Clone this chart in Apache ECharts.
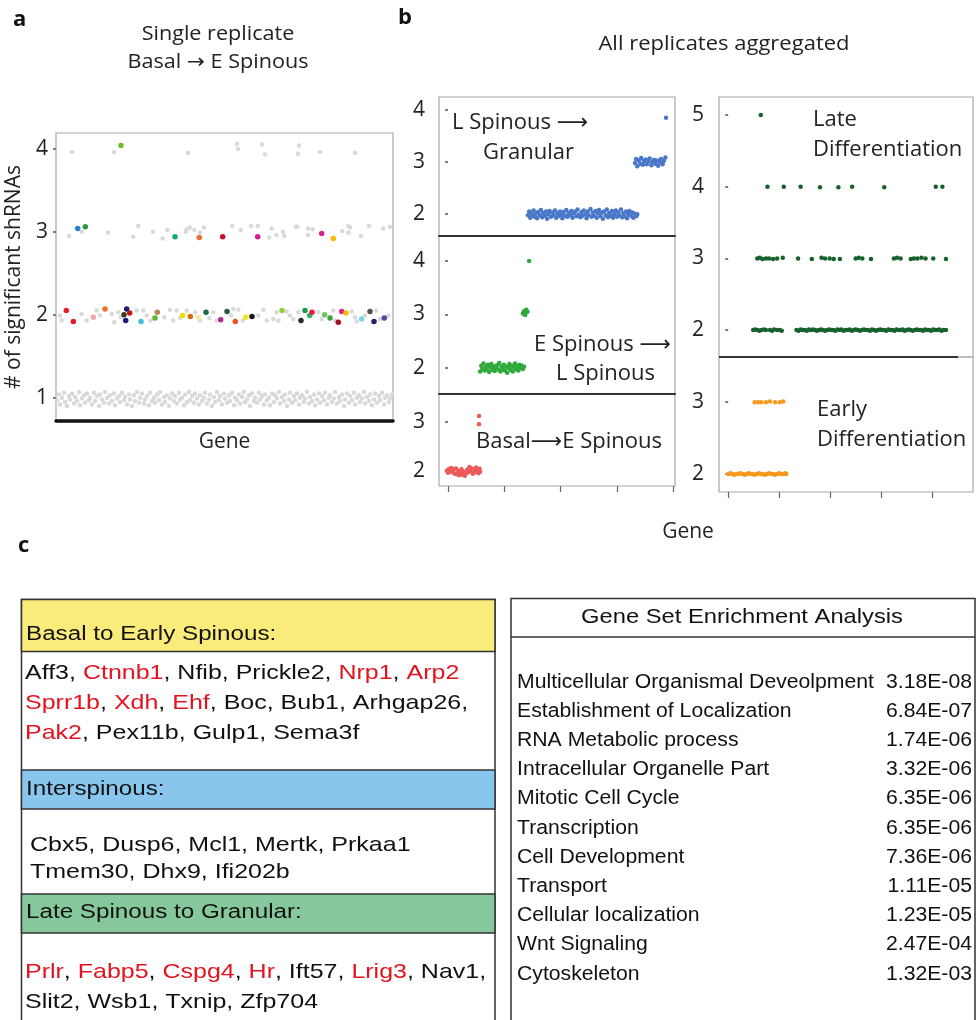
<!DOCTYPE html>
<html>
<head>
<meta charset="utf-8">
<script src="https://cdn.jsdelivr.net/npm/echarts@6/dist/echarts.min.js"></script>
<style>
  html, body { margin: 0; padding: 0; background: #fff; }
  #chart { width: 976px; height: 1020px; }
</style>
</head>
<body>
<div id="chart"></div>
<script>
// ---- panel a : single replicate, gene position (0-337) vs # significant shRNAs
const aBand1 = [
  [1,0.97],[3,1.04],[4,0.92],[6,1.0],[8,1.06],[9,0.95],[11,0.9],[13,1.02],[14,0.98],[16,1.05],
  [18,0.93],[19,1.01],[21,0.96],[23,1.07],[24,0.91],[26,0.99],[28,1.03],[29,0.94],[31,1.05],[33,0.97],
  [34,1.0],[36,0.92],[38,1.06],[39,0.96],[41,1.02],[43,0.9],[44,1.04],[46,0.98],[48,0.94],[49,1.07],
  [51,1.0],[53,0.93],[54,1.03],[56,0.96],[58,1.05],[59,0.91],[61,0.99],[63,1.02],[64,0.95],[66,1.06],
  [68,0.97],[69,1.01],[71,0.92],[73,1.04],[74,0.98],[76,0.9],[78,1.03],[79,0.96],[81,1.07],[83,0.94],
  [84,1.0],[86,1.05],[88,0.93],[89,0.98],[91,1.02],[93,0.91],[94,1.06],[96,0.96],[98,1.0],[99,0.94],
  [101,1.04],[103,0.97],[104,1.07],[106,0.92],[108,1.01],[109,0.95],[111,1.03],[113,0.9],[114,0.99],[116,1.05],
  [118,0.96],[119,1.02],[121,0.93],[123,1.06],[124,0.98],[126,1.0],[128,0.91],[129,1.04],[131,0.95],[133,1.07],
  [134,0.97],[136,1.02],[138,0.94],[139,1.05],[141,0.99],[143,0.92],[144,1.03],[146,0.96],[148,1.0],[149,1.06],
  [151,0.93],[153,0.98],[154,1.04],[156,0.9],[158,1.01],[159,0.95],[161,1.07],[163,0.97],[164,1.02],[166,0.92],
  [168,1.05],[169,0.99],[171,0.94],[173,1.03],[174,0.96],[176,1.06],[178,0.91],[179,1.0],[181,0.97],[183,1.04],
  [184,0.93],[186,1.01],[188,1.07],[189,0.95],[191,0.98],[193,1.03],[194,0.9],[196,1.05],[198,0.96],[199,1.0],
  [201,0.94],[203,1.06],[204,0.98],[206,1.02],[208,0.92],[209,1.04],[211,0.97],[213,1.0],[214,0.91],[216,1.05],
  [218,0.95],[219,1.03],[221,0.99],[223,1.07],[224,0.93],[226,1.01],[228,0.96],[229,1.04],[231,0.9],[233,0.98],
  [234,1.06],[236,0.94],[238,1.02],[239,0.97],[241,1.05],[243,0.92],[244,1.0],[246,1.03],[248,0.95],[249,0.99],
  [251,1.07],[253,0.93],[254,1.01],[256,0.96],[258,1.04],[259,0.91],[261,0.98],[263,1.05],[264,0.94],[266,1.02],
  [268,0.97],[269,1.06],[271,0.92],[273,1.0],[274,1.03],[276,0.95],[278,0.99],[279,1.07],[281,0.93],[283,1.01],
  [284,0.96],[286,1.04],[288,0.9],[289,0.98],[291,1.05],[293,0.94],[294,1.02],[296,0.97],[298,1.06],[299,0.92],
  [301,1.0],[303,1.03],[304,0.95],[306,0.99],[308,1.07],[309,0.93],[311,1.01],[313,0.96],[314,1.04],[316,0.91],
  [318,0.98],[319,1.05],[321,0.94],[323,1.02],[324,0.97],[326,1.06],[328,0.92],[329,1.0],[331,1.03],[333,0.95],
  [334,0.99],[336,1.04]
];
const aGray2 = [
  [4,1.99],[5.7,1.93],[25.7,2.01],[30.7,1.93],[40.7,2.05],[44,1.99],[55.7,2.01],[58.3,1.91],[62.3,2.03],[64.7,1.97],
  [80.7,2.05],[87.3,2.05],[90.7,1.99],[94.7,1.93],[108.3,1.97],[114,2.06],[117.3,1.93],[120.7,2.05],[124,1.96],[130.7,2.05],
  [139,2.03],[144,1.93],[153.3,1.96],[157.3,2.03],[160.7,1.93],[175,1.99],[177.3,2.07],[182.3,2.06],[186.7,1.93],[202.3,1.99],
  [207.3,2.06],[210.7,1.93],[217.3,1.95],[222.3,1.93],[220.7,2.03],[230.7,2.04],[234,1.99],[237.3,1.95],[242.3,2.03],[262.3,2.03],
  [265.7,1.95],[277.3,2.05],[279,1.93],[295.7,2.04],[299,1.97],[300.7,1.92],[309,1.99],[320,2.05],[324,1.95],[332.3,1.99]
];
const aGray3 = [
  [13,2.95],[25.7,3.0],[52,2.99],[77.3,2.94],[82.3,3.07],[97,3.0],[106.7,2.92],[111.3,3.02],[129.7,3.0],[130.7,3.03],
  [134,3.05],[138.3,3.02],[144,2.99],[148,3.05],[176.3,3.07],[184.7,3.02],[195,3.07],[201.7,3.07],[213.3,2.93],[215.7,3.04],
  [220.3,2.96],[227,3.0],[228.3,2.95],[240,3.06],[241.3,3.06],[252,2.96],[252,3.04],[256.7,3.03],[286.3,3.01],[292.3,3.07],
  [294,3.05],[292.3,2.99],[305,2.95],[313,3.07],[327.3,3.04],[334,3.06]
];
const aGray4 = [
  [16,3.96],[58,3.96],[132,3.95],[181,4.06],[182,4.0],[206,4.05],[209,3.93],[243,4.04],[242,3.94],[264,3.96],[299,3.95]
];
const aHit = [
  [65,4.04],
  [21.7,3.04],[29.3,3.06],[119,2.94],[143.3,2.93],[166.7,2.94],[201.7,2.94],[265.7,2.98],[277.3,2.92],
  [10.3,2.05],[17.3,1.92],[37.3,1.97],[49,2.07],[68,2.0],[70.7,2.07],[69.7,1.93],[73.7,2.02],[85,1.92],[99,1.96],
  [101.3,2.03],[126.7,1.99],[134.3,1.98],[142.3,1.97],[150,2.03],[164.7,1.94],[171,2.04],[179.3,1.92],[189.7,1.97],[196,1.98],
  [226,2.05],[245,1.93],[249,2.05],[253.7,1.99],[256,2.03],[268.7,2.0],[274,1.96],[282.3,1.91],[285.7,2.04],[290,2.02],
  [305.7,1.95],[314,2.04],[318,1.92],[328.3,1.96]
];
const aHitColors = [
  '#6cc02c',
  '#2a7fd0','#2a9a40','#1aa67a','#f26a30','#c8102e','#d01c8b','#d6248e','#f5b800',
  '#e8202a','#e41a2c','#f4a6a8','#f07020','#3a3a1a','#1a1a80','#1a1a80','#c81020','#40c0d8','#5ab82a',
  '#b08850','#f0e000','#d86a10','#f4eca0','#1f6a40','#b02a90','#2a5a3a','#f05020','#f0e820','#1a1a1a',
  '#90d040','#2a2a2a','#18a040','#30b060','#e8184a','#70c060','#40a040','#a01020','#e0208a','#f0c000',
  '#80d0e8','#505050','#202070','#6040a0'
];
const aTicks = [1, 2, 3, 4];

// ---- panel b left : all replicates, three transitions
const lsgAt2 = [
  [1.42,1.98],[1.44,2.05],[1.46,1.93],[1.48,2.02],[1.50,1.97],[1.52,2.07],[1.54,1.95],[1.56,2.01],[1.58,1.92],[1.60,2.04],
  [1.63,1.98],[1.65,2.08],[1.67,1.94],[1.69,2.02],[1.72,1.97],[1.74,2.05],[1.76,1.91],[1.78,2.0],[1.80,2.06],[1.83,1.95],
  [1.85,2.03],[1.87,1.98],[1.90,2.07],[1.92,1.93],[1.94,2.01],[1.96,1.96],[1.99,2.05],[2.01,1.99],[2.03,1.92],[2.05,2.04],
  [2.08,1.97],[2.10,2.08],[2.12,1.95],[2.14,2.02],[2.17,1.98],[2.19,2.06],[2.21,1.93],[2.23,2.01],[2.26,2.05],[2.28,1.96],
  [2.30,2.09],[2.32,1.99],[2.35,1.94],[2.37,2.04],[2.39,1.97],[2.41,2.07],[2.44,2.0],[2.46,1.92],[2.48,2.05],[2.50,1.98],
  [2.53,2.1],[2.55,1.95],[2.57,2.03],[2.59,1.97],[2.62,2.06],[2.64,1.93],[2.66,2.01],[2.68,2.08],[2.71,1.96],[2.73,2.03],
  [2.75,1.91],[2.77,2.05],[2.80,1.98],[2.82,2.09],[2.84,1.94],[2.86,2.02],[2.89,1.97],[2.91,2.06],[2.93,1.93],[2.95,2.0],
  [2.98,2.07],[3.00,1.95],[3.02,2.03],[3.04,1.98],[3.07,2.09],[3.09,1.94],[3.11,2.02],[3.13,1.96],[3.16,2.05],[3.18,1.92],
  [3.20,2.0],[3.22,2.06],[3.25,1.97],[3.27,2.03],[3.29,1.93],[3.31,2.01],[3.34,1.96],[3.36,2.0]
];
const lsgAt3 = [
  [3.32,2.98],[3.34,3.06],[3.36,2.92],[3.39,3.03],[3.41,2.97],[3.43,3.08],[3.46,2.95],[3.48,3.02],[3.51,3.05],[3.53,2.96],
  [3.56,3.01],[3.58,3.07],[3.61,2.94],[3.63,3.0],[3.66,3.04],[3.68,2.97],[3.71,3.03],[3.73,2.93],[3.76,2.99],[3.78,3.06],
  [3.81,2.96],[3.83,3.02],[3.86,3.09],[3.87,3.85]
];
const eslAll = [
  [0.57,1.93],[0.59,2.04],[0.61,1.98],[0.63,2.08],[0.65,1.95],[0.67,2.02],[0.69,1.97],[0.71,2.06],[0.73,1.92],[0.75,2.01],
  [0.77,2.07],[0.79,1.96],[0.81,2.03],[0.83,1.94],[0.85,2.0],[0.87,2.05],[0.89,1.97],[0.91,2.09],[0.93,1.93],[0.95,2.02],
  [0.97,1.98],[0.99,2.06],[1.01,1.95],[1.03,2.03],[1.05,1.91],[1.07,2.0],[1.09,2.07],[1.11,1.96],[1.13,2.04],[1.15,1.93],
  [1.17,2.01],[1.19,2.08],[1.21,1.97],[1.23,2.03],[1.25,1.95],[1.27,2.06],[1.29,2.0],[1.31,2.04],[1.33,1.98],[1.35,2.02],
  [1.33,3.02],[1.35,3.06],[1.37,2.99],[1.39,3.09],[1.41,3.05],[1.44,4.0]
];
const besAll = [
  [-0.02,2.0],[0.0,1.96],[0.02,2.04],[0.04,1.99],[0.06,2.06],[0.08,1.97],[0.10,2.02],[0.12,1.94],[0.14,2.05],[0.16,1.93],
  [0.18,2.0],[0.20,1.91],[0.22,1.96],[0.24,2.03],[0.26,1.92],[0.28,1.98],[0.30,1.9],[0.32,1.95],[0.34,2.02],[0.36,1.97],
  [0.38,2.08],[0.40,1.99],[0.42,2.05],[0.44,1.94],[0.46,2.03],[0.48,1.97],[0.50,2.07],[0.52,2.0],[0.54,1.95],[0.56,2.04],
  [0.57,1.98],[0.55,3.12],[0.55,2.95]
];

// ---- panel b right : late / early differentiation
const lateAll = [
  [0.64,5.0],
  [0.77,4.0],[1.09,4.0],[1.42,4.0],[1.80,3.99],[2.16,3.99],[2.43,4.0],[3.06,3.99],[4.07,4.0],[4.20,4.0],
  [0.57,3.0],[0.62,3.01],[0.67,2.99],[0.74,3.0],[0.80,3.0],[0.88,2.99],[0.96,3.0],[1.07,3.01],[1.37,3.0],[1.64,2.99],
  [1.83,3.01],[1.90,3.0],[1.99,3.0],[2.07,2.99],[2.19,2.99],[2.50,3.0],[2.56,3.01],[2.63,3.0],[2.80,2.99],[3.25,3.0],
  [3.31,3.01],[3.38,3.0],[3.58,2.99],[3.64,3.0],[3.71,3.0],[3.79,3.01],[3.87,3.0],[4.02,3.0],[4.27,2.99],
  [0.49,2.0],[0.53,2.01],[0.57,2.0],[0.61,1.99],[0.65,2.0],[0.70,2.01],[0.74,2.0],
  [0.82,2.0],[0.86,1.99],[0.90,2.01],[0.96,2.0],[1.01,2.0],[1.05,1.99],
  [1.34,2.0],[1.38,1.99],[1.42,2.01],[1.46,2.0],[1.50,2.0],[1.54,1.99],[1.58,2.01],[1.62,2.0],[1.66,2.01],[1.70,2.0],
  [1.74,1.99],[1.78,2.0],[1.82,2.01],[1.86,2.0],[1.90,1.99],[1.94,2.0],[1.98,2.01],[2.02,2.0],[2.06,2.0],[2.10,1.99],
  [2.14,2.01],[2.18,2.0],[2.22,2.01],[2.26,1.99],[2.30,2.0],[2.34,2.0],[2.38,2.01],[2.42,1.99],[2.46,2.0],[2.50,2.01],
  [2.54,2.0],[2.58,1.99],[2.62,2.0],[2.66,2.01],[2.70,2.0],[2.74,2.0],[2.78,1.99],[2.82,2.01],[2.86,2.0],[2.90,1.99],
  [2.94,2.0],[2.98,2.01],[3.02,2.0],[3.06,2.0],[3.10,1.99],[3.14,2.01],[3.18,2.0],[3.22,2.0],[3.26,1.99],[3.30,2.01],
  [3.34,2.0],[3.38,2.0],[3.42,2.01],[3.46,1.99],[3.50,2.0],[3.54,2.01],[3.58,2.0],[3.62,1.99],[3.66,2.0],[3.70,2.01],
  [3.74,2.0],[3.78,2.0],[3.82,1.99],[3.86,2.01],[3.90,2.0],[3.94,2.0],[3.98,1.99],[4.02,2.01],[4.06,2.0],[4.10,2.0],
  [4.14,2.01],[4.18,1.99],[4.22,2.0],[4.27,2.0]
];
const earlyAll = [
  [0.52,3.0],[0.59,3.0],[0.65,3.0],[0.74,3.0],[0.82,3.01],[0.92,3.0],[1.01,3.0],[1.08,3.01],
  [0.0,2.0],[0.04,2.01],[0.08,2.0],[0.12,1.99],[0.16,2.0],[0.20,2.0],[0.24,2.01],[0.28,2.0],[0.32,1.99],[0.36,2.0],
  [0.40,2.01],[0.44,2.0],[0.48,2.0],[0.52,1.99],[0.56,2.0],[0.60,2.01],[0.64,2.0],[0.68,2.0],[0.72,1.99],[0.76,2.0],
  [0.80,2.01],[0.84,2.0],[0.88,2.0],[0.92,1.99],[0.96,2.0],[1.00,2.01],[1.04,2.0],[1.08,2.0],[1.12,2.01],[1.14,2.0]
];
const bGeneTicks = [0, 1, 2, 3, 4];

// ---- panel c tables
const basalLines = ['Aff3, Ctnnb1, Nfib, Prickle2, Nrp1, Arp2', 'Sprr1b, Xdh, Ehf, Boc, Bub1, Arhgap26,', 'Pak2, Pex11b, Gulp1, Sema3f'];
const interLines = ['Cbx5, Dusp6, Mcl1, Mertk, Prkaa1', 'Tmem30, Dhx9, Ifi202b'];
const lateLines = ['Prlr, Fabp5, Cspg4, Hr, Ift57, Lrig3, Nav1,', 'Slit2, Wsb1, Txnip, Zfp704'];
const redGenes = ['Ctnnb1', 'Nrp1', 'Arp2', 'Sprr1b', 'Xdh', 'Ehf', 'Pak2', 'Prlr', 'Fabp5', 'Cspg4', 'Hr', 'Lrig3'];
const gseaTerms = ['Multicellular Organismal Deveolpment', 'Establishment of Localization', 'RNA Metabolic process',
  'Intracellular Organelle Part', 'Mitotic Cell Cycle', 'Transcription', 'Cell Development', 'Transport',
  'Cellular localization', 'Wnt Signaling', 'Cytoskeleton'];
const gseaP = ['3.18E-08', '6.84E-07', '1.74E-06', '3.32E-06', '6.35E-06', '6.35E-06', '7.36E-06', '1.11E-05',
  '1.23E-05', '2.47E-04', '1.32E-03'];

const FIG = '"Open Sans", "DejaVu Sans", sans-serif';
const TAB = '"Liberation Sans", Arial, sans-serif';
const INK = '#222';

const chart = echarts.init(document.getElementById('chart'), null, { renderer: 'canvas' });

function gridBox(left, top, width, height) {
  return { left, top, width, height, containLabel: false, outerBoundsMode: 'none',
    show: true, borderColor: '#a8a8a8', borderWidth: 1.2, backgroundColor: 'transparent' };
}
function yAx(gi, min, max, ticks, margin) {
  return {
    type: 'value', gridIndex: gi, min, max,
    axisLine: { show: false },
    axisTick: { show: true, customValues: ticks, length: 3, lineStyle: { color: '#555', width: 1.5 } },
    axisLabel: { customValues: ticks, fontSize: 21, color: INK, fontFamily: FIG, margin },
    splitLine: { show: false }
  };
}
function xAx(gi, min, max, line, ticks) {
  return {
    type: 'value', gridIndex: gi, min, max,
    axisLine: { show: !!line, onZero: false, lineStyle: line || {} },
    axisTick: ticks ? { show: true, customValues: ticks, length: 6, lineStyle: { color: '#666', width: 1.2 } } : { show: false },
    axisLabel: { show: false },
    splitLine: { show: false }
  };
}
function dots(xi, data, color, size) {
  return { type: 'scatter', xAxisIndex: xi, yAxisIndex: xi, data, symbolSize: size,
    itemStyle: { color, opacity: 1 }, silent: true };
}

function richText(line) {
  return line.split(/([A-Za-z0-9]+)/).filter(s => s !== '').map(s =>
    (redGenes.indexOf(s) >= 0 ? '{r|' : '{k|') + s + '}').join('');
}
const rich = { r: { fill: '#e3131f', fontSize: 21, fontFamily: TAB }, k: { fill: '#111', fontSize: 21, fontFamily: TAB } };

const graphics = [];
// text placed by element transform so that scaleX stretches from its anchor
function txt(text, x, y, size, opts, sx) {
  graphics.push({ type: 'text', silent: true, x, y, scaleX: sx || 1, style: Object.assign({
    text, x: 0, y: 0, fill: INK, font: size + 'px ' + FIG, align: 'left', verticalAlign: 'middle' }, opts || {}) });
}
// panel labels and titles
txt('a', 13, 20, 22, { font: 'bold 22px ' + FIG, fill: '#111' });
txt('b', 398, 18, 22, { font: 'bold 22px ' + FIG, fill: '#111' });
txt('c', 18, 546, 22, { font: 'bold 22px ' + FIG, fill: '#111' });
txt('Single replicate', 218, 34, 20, { align: 'center' }, 1.08);
txt('Basal \u2192 E Spinous', 218, 62, 20, { align: 'center' }, 1.08);
txt('All replicates aggregated', 724, 44, 20, { align: 'center' }, 1.1);
txt('Gene', 688, 532, 21, { align: 'center' });
// panel b annotations
txt('L Spinous \u27f6', 452, 123, 22);
txt('Granular', 483, 153, 22);
txt('E Spinous \u27f6', 534, 345, 22);
txt('L Spinous', 556, 374, 22);
txt('Basal\u27f6E Spinous', 476, 442, 22);
txt('Late', 813, 120, 22);
txt('Differentiation', 813, 150, 22);
txt('Early', 817, 410, 22);
txt('Differentiation', 817, 440, 22);
// divider of the late / early panels stops short of the right frame
graphics.push({ type: 'line', silent: true, shape: { x1: 719, y1: 357, x2: 958, y2: 357 }, style: { stroke: '#333', lineWidth: 2 } });

// left table
function box(x, y, w, h, fill) {
  graphics.push({ type: 'rect', silent: true, shape: { x, y, width: w, height: h },
    style: { fill, stroke: '#333', lineWidth: 1.5 } });
}
box(21.5, 599.5, 473.5, 440, '#fff');
box(21.5, 599.5, 473.5, 52, '#f9ec7a');
box(21.5, 770, 473.5, 39, '#88c6ee');
box(21.5, 894, 473.5, 39, '#86c89c');
function tabText(text, x, y, opts, sx) {
  graphics.push({ type: 'text', silent: true, x, y, scaleX: sx || 1, style: Object.assign({ text, x: 0, y: 0, fill: '#111',
    font: '20px ' + TAB, align: 'left', verticalAlign: 'middle' }, opts || {}) });
}
const LS = 1.19;
tabText('Basal to Early Spinous:', 26, 634, null, 1.21);
tabText('Interspinous:', 26, 789, null, 1.21);
tabText('Late Spinous to Granular:', 26, 912, null, 1.21);
basalLines.forEach((l, i) => tabText(richText(l), 25, 673 + i * 30, { rich }, LS));
interLines.forEach((l, i) => tabText(richText(l), 30, 845 + i * 27, { rich }, LS));
lateLines.forEach((l, i) => tabText(richText(l), 25, 972 + i * 30, { rich }, LS));

// right table
box(511, 598.5, 464, 440, '#fff');
graphics.push({ type: 'line', silent: true, shape: { x1: 511, y1: 637, x2: 975, y2: 637 }, style: { stroke: '#333', lineWidth: 1.5 } });
tabText('Gene Set Enrichment Analysis', 742, 617, { align: 'center', font: '21px ' + TAB }, 1.13);
gseaTerms.forEach((t, i) => tabText(t, 517, 682 + i * 29.2, { font: '20px ' + TAB }, 1.06));
gseaP.forEach((p, i) => tabText(p, 972, 682 + i * 29.2, { font: '20px ' + TAB, align: 'right' }, 1.06));

const option = {
  animation: false,
  backgroundColor: '#fff',
  grid: [
    gridBox(56, 133, 337, 288),
    gridBox(439, 97, 236, 139),
    gridBox(439, 236, 236, 158),
    gridBox(439, 394, 236, 92),
    gridBox(719, 97, 254, 260),
    gridBox(719, 357, 254, 135)
  ],
  xAxis: [
    Object.assign(xAx(0, 0, 337, { color: '#111', width: 3.5 }), {
      name: 'Gene', nameLocation: 'middle', nameGap: 11,
      nameTextStyle: { fontSize: 21, color: INK, fontFamily: FIG, verticalAlign: 'top' } }),
    xAx(1, -0.16, 4.03, { color: '#333', width: 2 }),
    xAx(2, -0.16, 4.03, { color: '#333', width: 2 }),
    xAx(3, -0.16, 4.03, null, bGeneTicks),
    xAx(4, -0.18, 4.80, null),
    xAx(5, -0.18, 4.80, null, bGeneTicks)
  ],
  yAxis: [
    Object.assign(yAx(0, 0.72, 4.19, aTicks, 8), {
      name: '# of significant shRNAs', nameLocation: 'middle', nameGap: 31, nameRotate: 90,
      nameTextStyle: { fontSize: 21, color: INK, fontFamily: FIG } }),
    yAx(1, 1.58, 4.25, [2, 3, 4], 14),
    yAx(2, 1.51, 4.47, [2, 3, 4], 14),
    yAx(3, 1.69, 3.57, [2, 3], 14),
    yAx(4, 1.625, 5.25, [2, 3, 4, 5], 15),
    yAx(5, 1.75, 3.63, [2, 3], 15)
  ],
  series: [
    dots(0, aBand1, '#d9d9d9', 4.5),
    dots(0, aGray2, '#d9d9d9', 4.5),
    dots(0, aGray3, '#d9d9d9', 4.5),
    dots(0, aGray4, '#d9d9d9', 4.5),
    dots(0, aHit.map((p, i) => ({ value: p, itemStyle: { color: aHitColors[i] } })), '#888', 5.5),
    dots(1, lsgAt2, '#4a78c8', 4.5),
    dots(1, lsgAt3, '#4a78c8', 4.5),
    dots(2, eslAll, '#2eaa3a', 4.5),
    dots(3, besAll, '#ec5a5a', 4.5),
    dots(4, lateAll, '#17612c', 4.5),
    dots(5, earlyAll, '#f59a1e', 4.5)
  ],
  graphic: graphics
};
chart.setOption(option);
</script>
</body>
</html>
